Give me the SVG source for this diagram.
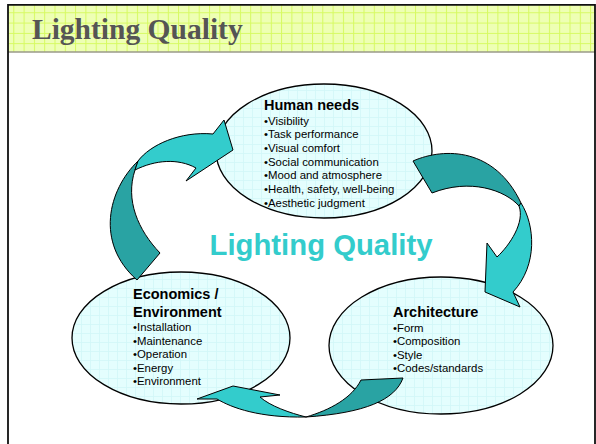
<svg xmlns="http://www.w3.org/2000/svg" width="596" height="444" viewBox="0 0 596 444">
  <defs>
    <pattern id="hdrGrid" width="10.3" height="10.3" patternUnits="userSpaceOnUse" x="3" y="2">
      <rect width="10.3" height="10.3" fill="#eeffb4"/>
      <path d="M0,0.5H10.3M0.5,0V10.3" stroke="#d6fa60" stroke-width="1"/>
    </pattern>
    <pattern id="bubbleGrid" width="9" height="9" patternUnits="userSpaceOnUse">
      <rect width="9" height="9" fill="#e4fefe"/>
      <path d="M0,0.5H9M0.5,0V9" stroke="#d2f6f8" stroke-width="0.8"/>
    </pattern>
    <style>
      .bubble { fill: url(#bubbleGrid); stroke: #000; stroke-width: 1.3; }
      .head { font-family: "Liberation Sans", Arial, sans-serif; font-size: 14.5px; font-weight: bold; fill: #000; }
      .item { font-family: "Liberation Sans", Arial, sans-serif; font-size: 11.4px; fill: #000; }
      .light { fill: #33cccc; stroke: #000; stroke-width: 1; stroke-linejoin: round; }
      .dark { fill: #29a3a3; stroke: #000; stroke-width: 1; stroke-linejoin: round; }
    </style>
  </defs>

  <rect width="596" height="444" fill="#fff"/>

  <!-- title band -->
  <rect x="8" y="5" width="587" height="47" fill="url(#hdrGrid)"/>
  <line x1="8" y1="52" x2="595" y2="52" stroke="#9a9a8a" stroke-width="1.6"/>
  <text x="32" y="39" font-family="Liberation Serif, 'Times New Roman', serif" font-size="29.5" font-weight="bold" fill="#555">Lighting Quality</text>

  <!-- slide frame -->
  <path d="M8,444V4.8H595V444" fill="none" stroke="#111" stroke-width="1.8"/>

  <!-- bubbles -->
  <g id="human-needs">
    <ellipse class="bubble" cx="324" cy="151" rx="108" ry="67"/>
    <text class="head" x="264" y="110">Human needs</text>
    <text class="item" x="264" y="124.5">•Visibility</text>
    <text class="item" x="264" y="138.2">•Task performance</text>
    <text class="item" x="264" y="151.9">•Visual comfort</text>
    <text class="item" x="264" y="165.6">•Social communication</text>
    <text class="item" x="264" y="179.3">•Mood and atmosphere</text>
    <text class="item" x="264" y="193">•Health, safety, well-being</text>
    <text class="item" x="264" y="206.7">•Aesthetic judgment</text>
  </g>

  <g id="economics-environment">
    <ellipse class="bubble" cx="181" cy="338" rx="109" ry="66"/>
    <text class="head" x="133" y="299">Economics /</text>
    <text class="head" x="133" y="316.6">Environment</text>
    <text class="item" x="133" y="331">•Installation</text>
    <text class="item" x="133" y="344.5">•Maintenance</text>
    <text class="item" x="133" y="358">•Operation</text>
    <text class="item" x="133" y="371.5">•Energy</text>
    <text class="item" x="133" y="385">•Environment</text>
  </g>

  <g id="architecture">
    <ellipse class="bubble" cx="441" cy="345.5" rx="112" ry="68.5"/>
    <text class="head" x="393" y="316.6">Architecture</text>
    <text class="item" x="393" y="331.8">•Form</text>
    <text class="item" x="393" y="345.2">•Composition</text>
    <text class="item" x="393" y="358.6">•Style</text>
    <text class="item" x="393" y="372">•Codes/standards</text>
  </g>

  <g id="center-label">
    <text x="321" y="255" text-anchor="middle" font-family="Liberation Sans, Arial, sans-serif" font-size="29.3" font-weight="bold" fill="#33cccc">Lighting Quality</text>
  </g>

  <!-- twisted cycle arrows -->
  <g id="connectors">
    <!-- economics to human needs -->
    <path class="dark" d="M138,161 C108,190 95,243 137,280 L160,253 C138,230 125,200 135,170 Z"/>
    <path class="light" d="M138,161 C150,145 180,131 213,134 L224,120 L233,150 L186,181 L196,168 C178,158 155,160 135,170 Z"/>
    <!-- human needs to architecture -->
    <path class="dark" d="M413,161 C445,147 495,148 521,203 L519,206 C505,190 470,178 432,193 Z"/>
    <path class="light" d="M521,203 C535,225 538,265 513,292 L520,307 L485,292 L487,243 L497,257 C510,245 525,222 519,206 Z"/>
    <!-- architecture to economics -->
    <path class="dark" d="M361,380 L403,378 C395,400 365,413 306,417 C330,410 352,398 361,380 Z"/>
    <path class="light" d="M306,417 C290,413 270,406 260,397 L280,395 L233,386 L197,399 L217,399 C232,408 260,418 306,417 Z"/>
  </g>
</svg>
